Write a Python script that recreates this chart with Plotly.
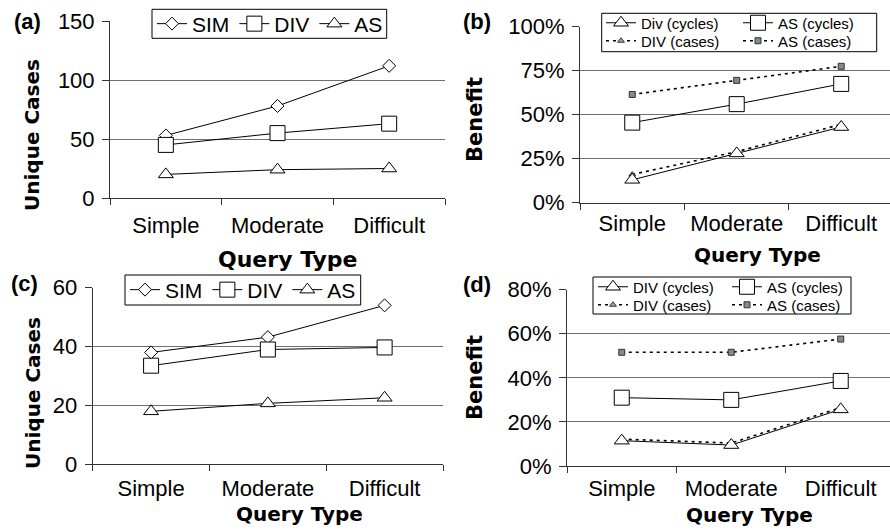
import plotly.graph_objects as go

categories = ["Simple", "Moderate", "Difficult"]

# Panel (a): unique cases
a_sim = [53, 78, 112]
a_div = [45, 55, 63]
a_as = [20, 24, 25]
# Panel (b): benefit (%)
b_div_cycles = [13, 28, 43]
b_as_cycles = [45.5, 56, 67.5]
b_div_cases = [16, 29, 44.5]
b_as_cases = [61.5, 69.5, 77.5]
# Panel (c): unique cases
c_sim = [38, 43.2, 54]
c_div = [33.5, 39, 39.7]
c_as = [18, 20.7, 22.6]
# Panel (d): benefit (%)
d_div_cycles = [11.5, 9.5, 25.7]
d_as_cycles = [31, 30, 38.6]
d_div_cases = [12.2, 10.4, 26.5]
d_as_cases = [51.6, 51.6, 57.6]

a_yticks = [0, 50, 100, 150]
b_yticks = [0, 25, 50, 75, 100]
c_yticks = [0, 20, 40, 60]
d_yticks = [0, 20, 40, 60, 80]

W, H = 890, 530


def fx(x):
    return x / W


def fy(y):
    return 1 - y / H


TICKFONT = dict(family="Liberation Sans, Arial, sans-serif", size=22, color="black")
TITLEFONT = dict(family="DejaVu Sans", size=20, color="black", weight="bold")
GRID = "#707070"
AXIS = "#333333"

fig = go.Figure()


def big(symbol, size):
    return dict(symbol=symbol, size=size, color="white", line=dict(color="black", width=1))


def add(x_ax, y_ax, y, name, marker, legend, dash="solid", lw=1):
    fig.add_trace(go.Scatter(
        x=categories, y=y, name=name, mode="lines+markers",
        line=dict(color="black", width=lw, dash=dash),
        marker=marker, xaxis=x_ax, yaxis=y_ax, legend=legend,
        cliponaxis=False,
    ))


# (a)
add("x", "y", a_sim, "SIM", big("diamond", 10), "legend")
add("x", "y", a_div, "DIV", big("square", 15), "legend")
add("x", "y", a_as, "AS", big("triangle-up", 13), "legend")
# (b)
small_sq = dict(symbol="square", size=6, color="#7f8c8c", line=dict(color="#333333", width=1))
small_tri = dict(symbol="triangle-up", size=6, color="#9aa5a5", line=dict(color="#333333", width=1))
DASH = "3px,4px"
add("x2", "y2", b_div_cases, "DIV (cases)", small_tri, "legend4", dash=DASH, lw=1.6)
add("x2", "y2", b_as_cases, "AS (cases)", small_sq, "legend4", dash=DASH, lw=1.6)
add("x2", "y2", b_div_cycles, "Div (cycles)", big("triangle-up", 13), "legend3")
add("x2", "y2", b_as_cycles, "AS (cycles)", big("square", 15), "legend3")
# (c)
add("x3", "y3", c_sim, "SIM", big("diamond", 10), "legend2")
add("x3", "y3", c_div, "DIV", big("square", 15), "legend2")
add("x3", "y3", c_as, "AS", big("triangle-up", 13), "legend2")
# (d)
add("x4", "y4", d_div_cases, "DIV (cases)", small_tri, "legend6", dash=DASH, lw=1.6)
add("x4", "y4", d_as_cases, "AS (cases)", small_sq, "legend6", dash=DASH, lw=1.6)
add("x4", "y4", d_div_cycles, "DIV (cycles)", big("triangle-up", 13), "legend5")
add("x4", "y4", d_as_cycles, "AS (cycles)", big("square", 15), "legend5")


def xaxis(dom, rng, anchor, standoff):
    return dict(domain=dom, range=rng, type="category", anchor=anchor,
                showline=True, linecolor=AXIS, linewidth=1, showgrid=False,
                ticks="outside", ticklen=6, tickcolor=AXIS, tickson="boundaries",
                tickfont=TICKFONT, ticklabelstandoff=standoff, zeroline=False, fixedrange=True,
                automargin=False)


def yaxis(dom, rng, tv, anchor, suffix=""):
    return dict(domain=dom, range=rng, anchor=anchor, tickvals=tv,
                ticktext=[f"{v}{suffix}" for v in tv],
                showline=True, linecolor=AXIS, linewidth=1,
                showgrid=True, gridcolor=GRID, gridwidth=1,
                ticks="outside", ticklen=7, tickcolor=AXIS,
                tickfont=TICKFONT, ticklabelstandoff=3, zeroline=False, fixedrange=True,
                automargin=False)


def row_legend(x, y, size, entry=None):
    d = dict(x=x, y=y, xanchor="left", yanchor="middle",
             orientation="h", font=dict(family="Liberation Sans, Arial, sans-serif", size=size, color="black"),
             bgcolor="rgba(0,0,0,0)", borderwidth=0,
             tracegroupgap=0, itemwidth=30)
    if entry:
        d["entrywidth"] = entry
        d["entrywidthmode"] = "pixels"
    return d


fig.update_layout(
    width=W, height=H, margin=dict(l=0, r=0, t=0, b=0, autoexpand=False),
    paper_bgcolor="white", plot_bgcolor="white",
    showlegend=True,
    xaxis=xaxis([fx(110), fx(445)], [-0.5, 2.5], "y", 8),
    yaxis=yaxis([fy(198), fy(21)], [0, 150], a_yticks, "x"),
    xaxis2=xaxis([fx(580), 1], [-0.5, 2.467], "y2", 1),
    yaxis2=yaxis([fy(202.7), fy(26.7)], [0, 100], b_yticks, "x2", "%"),
    xaxis3=xaxis([fx(92.7), fx(443)], [-0.5, 2.5], "y3", 4),
    yaxis3=yaxis([fy(464.3), fy(287.7)], [0, 60], c_yticks, "x3"),
    xaxis4=xaxis([fx(567), 1], [-0.5, 2.45], "y4", 3),
    yaxis4=yaxis([fy(466), fy(289.7)], [0, 80], d_yticks, "x4", "%"),
    legend=row_legend(fx(152), fy(24), 21),
    legend2=row_legend(fx(125), fy(290), 21),
    legend3=row_legend(fx(601), fy(23), 15, entry=92),
    legend4=row_legend(fx(601), fy(41), 15, entry=92),
    legend5=row_legend(fx(593), fy(287), 15, entry=89),
    legend6=row_legend(fx(593), fy(305), 15, entry=89),
)

# legend frames
for x0, y0, x1, y1 in [(152, 9.3, 386.7, 38.3), (125, 275, 360.7, 305),
                       (601.7, 13.3, 876.7, 51.7), (593, 277, 851, 314)]:
    fig.add_shape(type="rect", xref="paper", yref="paper",
                  x0=fx(x0), x1=fx(x1), y0=fy(y1), y1=fy(y0),
                  fillcolor="white", line=dict(color="black", width=1), layer="above")

ann = []
for txt, x, y in [("(a)", 27, 22), ("(b)", 477, 22), ("(c)", 24, 283), ("(d)", 477, 284)]:
    ann.append(dict(text=txt, x=fx(x), y=fy(y), xref="paper", yref="paper", showarrow=False,
                    xanchor="center", yanchor="middle",
                    font=dict(family="Liberation Sans, Arial, sans-serif", size=22, color="black", weight="bold")))
for txt, x, y, ang, size in [
    ("Unique Cases", 32, 135, -90, 20), ("Unique Cases", 33, 393, -90, 20),
    ("Benefit", 475, 120, -90, 21), ("Benefit", 475, 378, -90, 21),
    ("Query Type", 288, 259, 0, 22), ("Query Type", 757, 255, 0, 20),
    ("Query Type", 299, 514, 0, 20), ("Query Type", 749, 515, 0, 20),
]:
    f = dict(TITLEFONT)
    f["size"] = size
    ann.append(dict(text=txt, x=fx(x), y=fy(y), xref="paper", yref="paper", showarrow=False,
                    xanchor="center", yanchor="middle", textangle=ang, font=f))
fig.update_layout(annotations=ann)

fig.write_html("out.html")
